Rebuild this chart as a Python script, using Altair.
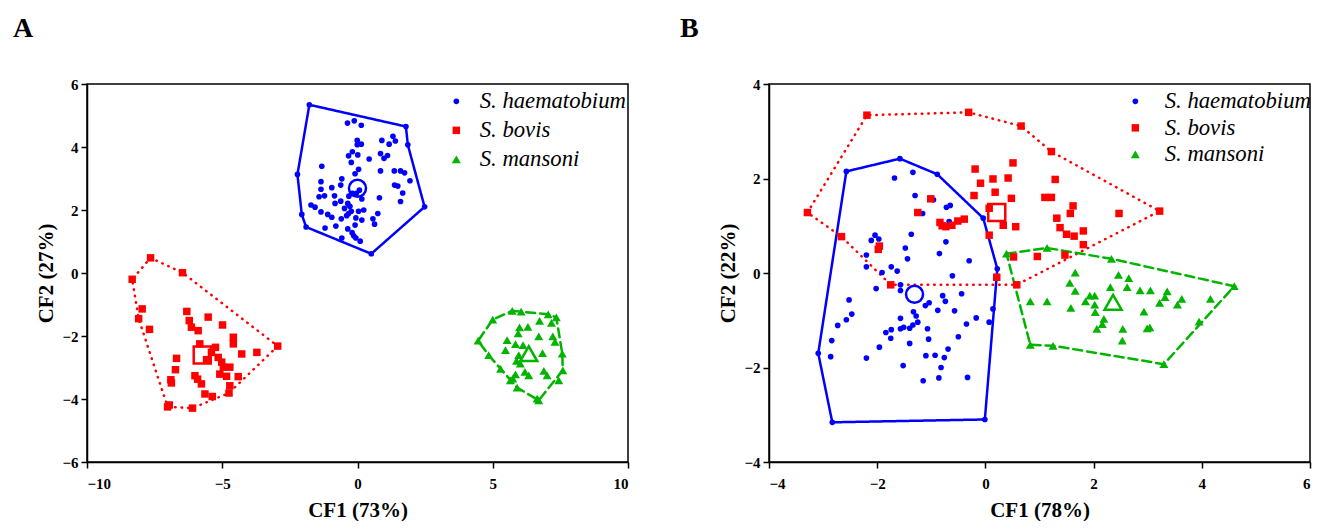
import altair as alt
import pandas as pd

SPECIES = ["S. haematobium", "S. bovis", "S. mansoni"]
COLORS = ["#0000ff", "#ff0000", "#00b400"]
SHAPES = ["circle", "square", "triangle-up"]

# ---------------- Panel A ----------------
a_hae_x = [-1.78, 1.79, 1.86, 2.48, 0.51, -1.90, -2.06, -2.22,
           -0.37, -0.12, 0.14, -0.01, -0.01, 0.14, 0.90, 1.17, 1.31, 1.40, -0.19, 0.01, -0.33, -0.23,
           0.85, 1.11, 0.98, 0.43, -1.32, 0.04, -0.09, 0.85, 1.36, 1.59, 1.74, 1.94, -0.58, -1.35,
           -0.62, 1.37, 1.49, 1.67, -0.95, -0.85, -1.35, -1.42, -1.22, -0.32, -0.19, 0.07, -0.04,
           0.16, 0.81, 1.59, -1.72, -1.57, -1.35, -0.83, -0.62, -0.36, -0.28, -1.10, -0.95, -0.48,
           -0.40, -0.33, -0.23, 0.04, 0.23, -0.06, 0.16, 0.57, 0.75, 0.63, -0.60, -1.20, -0.80,
           -0.36, -0.09, -0.58, -0.20, -0.14, -0.06, 0.10]
a_hae_y = [5.34, 4.65, 4.07, 2.10, 0.61, 1.46, 1.86, 3.13,
           4.76, 4.83, 4.69, 4.21, 4.07, 4.09, 4.21, 4.09, 4.34, 4.19, 3.85, 3.75, 3.72, 3.51,
           3.79, 3.73, 3.64, 3.62, 3.39, 3.29, 3.15, 3.24, 3.24, 3.24, 3.18, 2.93, 2.99, 2.90,
           2.79, 2.79, 2.76, 2.54, 2.71, 2.45, 2.66, 2.42, 2.45, 2.44, 2.53, 2.63, 2.53,
           2.35, 2.39, 2.27, 2.16, 2.09, 1.94, 2.21, 2.28, 2.21, 2.12, 1.86, 1.77, 2.05,
           1.82, 1.89, 1.96, 1.96, 2.00, 1.75, 1.68, 1.72, 1.89, 1.55, 1.72, 1.43, 1.49,
           1.40, 1.52, 1.11, 1.28, 1.18, 1.11, 1.01]
a_bov_x = [-7.65, -8.33, -6.47, -7.96, -8.09, -7.69, -6.31, -6.22, -6.14, -5.89, -5.52, -4.99,
           -4.59, -4.59, -5.83, -5.25, -5.40, -4.28, -3.72, -2.95, -6.69, -6.73, -5.58, -5.15,
           -5.02, -4.96, -4.72, -5.09, -4.84, -4.41, -6.90, -6.88, -6.01, -5.91, -5.77, -4.72,
           -4.75, -5.64, -5.37, -6.96, -7.02, -6.10]
a_bov_y = [0.48, -0.20, 0.01, -1.14, -1.45, -1.79, -1.22, -1.51, -1.72, -1.83, -1.40, -1.65,
           -2.04, -2.25, -2.25, -2.36, -2.52, -2.57, -2.52, -2.32, -2.71, -3.07, -2.75, -2.68,
           -2.83, -2.99, -2.99, -3.21, -3.28, -3.29, -3.39, -3.49, -3.26, -3.37, -3.52, -3.58,
           -3.81, -3.84, -3.92, -4.19, -4.25, -4.29]
a_man_x = [5.72, 6.05, 6.73, 7.05, 7.35, 7.17, 5.00, 4.46, 5.99, 6.30, 5.94, 6.70, 7.22, 7.30,
           5.53, 5.84, 6.12, 5.47, 6.84, 5.96, 5.88, 6.02, 7.57, 4.85, 6.19, 6.33, 5.84, 5.74,
           6.89, 7.01, 7.59, 5.90, 6.70, 6.64, 7.44, 5.29, 5.65]
a_man_y = [-1.20, -1.23, -1.52, -1.31, -1.41, -1.58, -1.48, -2.15, -1.73, -1.71, -1.92, -2.01,
           -2.01, -2.19, -2.13, -2.26, -2.29, -2.45, -2.54, -2.61, -2.79, -2.88, -2.56, -2.61,
           -3.14, -3.25, -3.22, -3.35, -3.11, -3.25, -3.09, -3.64, -4.04, -3.99, -3.41, -3.04,
           -3.41]
a_cent_x = [0.00, -5.74, 6.33]
a_cent_y = [2.69, -2.60, -2.56]
a_hull_hae_x = [-1.78, 1.79, 1.86, 2.48, 0.51, -1.90, -2.06, -2.22]
a_hull_hae_y = [5.34, 4.65, 4.07, 2.10, 0.61, 1.46, 1.86, 3.13]
a_hull_bov_x = [-7.65, -6.47, -2.95, -4.75, -6.10, -7.02, -8.09, -8.33]
a_hull_bov_y = [0.48, 0.01, -2.32, -3.81, -4.29, -4.25, -1.45, -0.20]
a_hull_man_x = [5.72, 6.05, 7.05, 7.35, 7.57, 7.59, 6.70, 5.90, 5.29, 4.85, 4.46, 5.00]
a_hull_man_y = [-1.20, -1.23, -1.31, -1.41, -2.56, -3.09, -4.04, -3.64, -3.04, -2.61, -2.15, -1.48]

# ---------------- Panel B ----------------
b_hae_x = [-2.57, -1.58, -0.89, -0.04, 0.22, -0.01, -2.83, -3.09,
           -1.68, -1.34, -1.30, -0.96, -0.72, -0.65, -1.16, -0.67, -2.04, -2.11, -1.97, -1.37,
           -0.73, -1.48, -0.85, -0.30, -1.44, -2.20, -2.20, -1.74, -1.63, -1.91, -1.57, -1.57,
           -0.61, -2.02, -0.79, -0.74, -1.11, -1.04, -0.44, -2.52, -0.88, -0.57, -2.47, -2.57,
           -2.73, -1.57, -1.33, -1.28, -1.25, -1.34, -1.40, -1.51, -1.57, -0.17, 0.07, 0.14,
           -1.84, -1.74, -1.75, -1.07, -1.05, -0.35, -0.50, -2.84, -1.40, -1.96, -0.69, -1.10,
           -0.93, -0.76, -2.86, -2.20, -1.52, -0.82, -0.86, -0.33, -1.15]
b_hae_y = [2.15, 2.42, 2.09, 1.16, 0.09, -3.10, -3.16, -1.70,
           2.01, 2.13, 1.64, 1.55, 1.39, 1.43, 1.26, 1.09, 0.80, 0.69, 0.72, 0.82,
           0.66, 0.53, 0.41, 0.26, 0.30, 0.38, 0.13, 0.13, 0.04, 0.01, -0.25, -0.37,
           -0.06, -0.33, -0.48, -0.60, -0.69, -0.63, -0.44, -0.57, -0.79, -0.80, -0.87, -0.99,
           -1.11, -0.96, -0.82, -0.91, -1.04, -1.10, -1.17, -1.15, -1.18, -0.95, -1.04, -0.76,
           -1.26, -1.20, -1.38, -1.18, -1.40, -1.08, -1.35, -1.43, -1.49, -1.57, -1.61, -1.75,
           -1.74, -1.79, -1.77, -1.80, -1.96, -2.00, -2.22, -2.21, -2.28]
b_bov_x = [-3.29, -2.66, -2.19, -0.31, 0.66, 1.22, 3.22, 0.51, -0.19, 0.14, 0.42, -0.09, 1.29,
           0.18, -0.21, 0.48, 1.10, 1.22, -1.01, -1.25, 0.07, 1.62, 1.57, 2.47, -0.84, -0.73,
           -0.62, -0.51, -0.39, -0.80, 0.33, 0.56, 1.32, 1.38, 1.50, 1.64, 1.81, 1.81, 0.07,
           -1.98, -1.96, 0.52, 0.96, 1.47, 0.21, -1.75, 0.58]
b_bov_y = [1.28, 0.77, 3.34, 3.40, 3.11, 2.57, 1.31, 2.33, 2.20, 1.99, 2.01, 1.90, 1.98,
           1.71, 1.64, 1.58, 1.60, 1.60, 1.57, 1.28, 1.37, 1.42, 1.26, 1.26, 1.07, 0.98,
           1.01, 1.10, 1.14, 1.00, 1.01, 0.98, 1.16, 0.96, 0.82, 0.78, 0.89, 0.60, 0.80,
           0.50, 0.57, 0.34, 0.35, 0.38, -0.09, -0.25, -0.25]
b_man_x = [0.39, 1.14, 2.33, 4.60, 3.30, 0.83, 1.25, 1.66, 1.56, 1.66, 2.46, 2.65, 2.31, 2.62,
           2.86, 3.05, 3.36, 3.32, 3.22, 3.63, 3.55, 4.16, 0.83, 1.14, 1.93, 2.02, 1.85, 2.02,
           1.58, 2.03, 2.93, 2.19, 2.16, 2.06, 2.54, 2.99, 3.04, 2.53, 3.95]
b_man_y = [0.41, 0.53, 0.30, -0.28, -1.93, -1.52, -1.54, 0.01, -0.21, -0.38, -0.04, -0.11,
           -0.30, -0.30, -0.37, -0.37, -0.39, -0.51, -0.63, -0.55, -0.67, -0.55, -0.60, -0.60,
           -0.48, -0.48, -0.60, -0.67, -0.74, -0.83, -0.82, -0.97, -1.08, -1.18, -1.18, -1.17,
           -1.15, -1.43, -1.03]
b_cent_x = [-1.31, 0.21, 2.36]
b_cent_y = [-0.45, 1.28, -0.62]
b_hull_hae_x = [-2.57, -1.58, -0.89, -0.04, 0.22, -0.01, -2.83, -3.09]
b_hull_hae_y = [2.15, 2.42, 2.09, 1.16, 0.09, -3.10, -3.16, -1.70]
b_hull_bov_x = [-3.29, -2.19, -0.31, 0.66, 1.22, 3.22, 0.58, -1.75, -2.66]
b_hull_bov_y = [1.28, 3.34, 3.40, 3.11, 2.57, 1.31, -0.25, -0.25, 0.77]
b_hull_man_x = [0.39, 1.14, 2.33, 4.60, 3.30, 1.25, 0.83]
b_hull_man_y = [0.41, 0.53, 0.30, -0.28, -1.93, -1.54, -1.52]

SERIF = "Liberation Serif"


def points_df(groups):
    rows = []
    for sp, xs, ys in groups:
        for x, y in zip(xs, ys):
            rows.append({"x": x, "y": y, "species": sp})
    return pd.DataFrame(rows)


def hull_df(groups):
    rows = []
    for sp, xs, ys in groups:
        n = len(xs)
        for i in range(n + 1):
            rows.append({"x": xs[i % n], "y": ys[i % n], "species": sp, "ord": i})
    return pd.DataFrame(rows)


def panel(pts, cents, hull, xdom, xvals, ydom, yvals, xtitle, ytitle, letter,
          legx, legy, rowpad, laboff, tdx):
    xs = alt.Scale(domain=xdom, nice=False, zero=False)
    ys = alt.Scale(domain=ydom, nice=False, zero=False)
    xax = alt.Axis(values=xvals, title=xtitle)
    yax = alt.Axis(values=yvals, title=ytitle)
    leg = alt.Legend(orient="none", legendX=legx, legendY=legy, title=None,
                     labelFont=SERIF, labelFontStyle="italic", labelFontSize=22.7,
                     labelColor="black", rowPadding=rowpad, labelOffset=laboff,
                     padding=0, symbolStrokeWidth=0)
    cscale = alt.Scale(domain=SPECIES, range=COLORS)
    sscale = alt.Scale(domain=SPECIES, range=SHAPES)

    hull_layer = alt.Chart(hull).mark_line(strokeWidth=2.5, strokeCap="round").encode(
        x=alt.X("x:Q", scale=xs, axis=xax),
        y=alt.Y("y:Q", scale=ys, axis=yax),
        color=alt.Color("species:N", scale=cscale, legend=leg),
        strokeDash=alt.StrokeDash("species:N", legend=None,
                                  scale=alt.Scale(domain=SPECIES, range=[[1, 0], [0.5, 6], [9, 5]])),
        detail="species:N",
        order="ord:Q",
    )
    pts_layer = alt.Chart(pts).mark_point(filled=True, opacity=1).encode(
        x="x:Q",
        y="y:Q",
        color=alt.Color("species:N", scale=cscale, legend=leg),
        shape=alt.Shape("species:N", scale=sscale, legend=leg),
        size=alt.Size("species:N", scale=alt.Scale(domain=SPECIES, range=[32, 80, 75]), legend=leg),
    )
    cent_layer = alt.Chart(cents).mark_point(filled=False, strokeWidth=2.5, opacity=1, size=290).encode(
        x="x:Q",
        y="y:Q",
        color=alt.Color("species:N", scale=cscale, legend=leg),
        shape=alt.Shape("species:N", scale=sscale, legend=leg),
    )
    return alt.layer(hull_layer, pts_layer, cent_layer).properties(
        width=541, height=378,
        title=alt.TitleParams(letter, anchor="start", frame="bounds", font=SERIF,
                              fontSize=28, fontWeight="bold", color="black", offset=34, dx=tdx),
    )


A = panel(
    points_df([(SPECIES[0], a_hae_x, a_hae_y), (SPECIES[1], a_bov_x, a_bov_y), (SPECIES[2], a_man_x, a_man_y)]),
    points_df([(SPECIES[i], [a_cent_x[i]], [a_cent_y[i]]) for i in range(3)]),
    hull_df([(SPECIES[0], a_hull_hae_x, a_hull_hae_y), (SPECIES[1], a_hull_bov_x, a_hull_bov_y),
             (SPECIES[2], a_hull_man_x, a_hull_man_y)]),
    [-10, 10], [-10, -5, 0, 5, 10], [-6, 6], [-6, -4, -2, 0, 2, 4, 6],
    "CF1 (73%)", "CF2 (27%)", "A", 358, 6, 5, 12, -23,
)
B = panel(
    points_df([(SPECIES[0], b_hae_x, b_hae_y), (SPECIES[1], b_bov_x, b_bov_y), (SPECIES[2], b_man_x, b_man_y)]),
    points_df([(SPECIES[i], [b_cent_x[i]], [b_cent_y[i]]) for i in range(3)]),
    hull_df([(SPECIES[0], b_hull_hae_x, b_hull_hae_y), (SPECIES[1], b_hull_bov_x, b_hull_bov_y),
             (SPECIES[2], b_hull_man_x, b_hull_man_y)]),
    [-4, 6], [-4, -2, 0, 2, 4, 6], [-4, 4], [-4, -2, 0, 2, 4],
    "CF1 (78%)", "CF2 (22%)", "B", 355, 6, 2.5, 18, -38,
)

chart = alt.hconcat(A, B, spacing=49).resolve_scale(
    color="independent", shape="independent", size="independent", strokeDash="independent",
).resolve_legend(color="independent", shape="independent", size="independent").properties(
    padding={"left": 12, "top": 14, "right": 0, "bottom": 0},
    background="white",
).configure_view(stroke="black", strokeWidth=1.5).configure_axis(
    grid=False, domainColor="black", domainWidth=1.5, tickColor="black", tickWidth=1.5, tickSize=6,
    labelFont=SERIF, labelFontSize=15, labelFontWeight="bold", labelColor="black", labelPadding=3,
    titleFont=SERIF, titleFontSize=21, titleFontWeight="bold", titleColor="black",
).configure_axisX(titlePadding=8, labelPadding=8).configure_axisY(titlePadding=5)

chart.save("out.html", embed_options={"renderer": "svg", "actions": False})
